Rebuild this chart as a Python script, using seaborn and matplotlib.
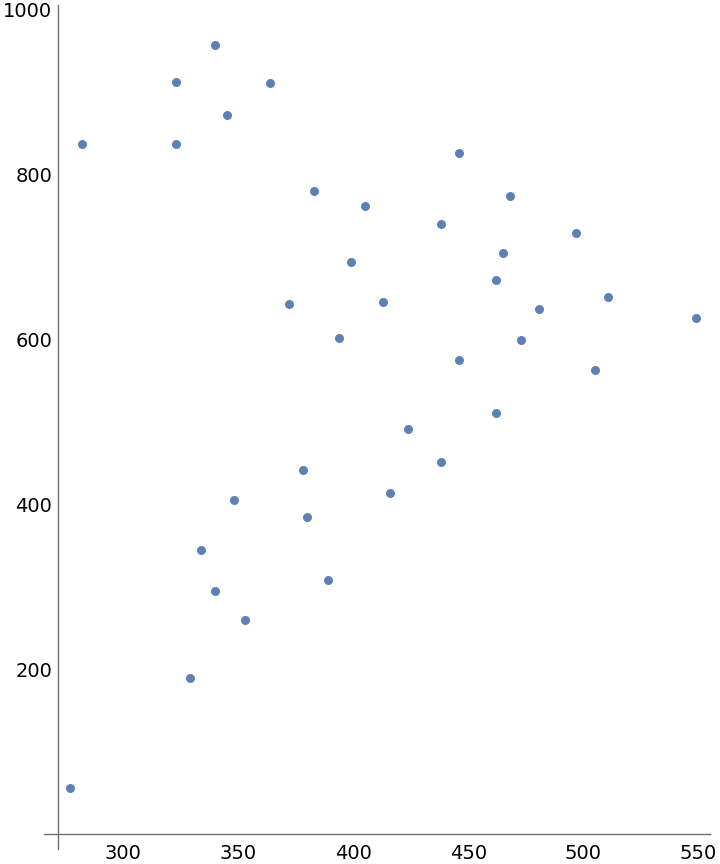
import matplotlib
matplotlib.use("Agg")
import matplotlib.pyplot as plt
from matplotlib.ticker import MultipleLocator, FixedLocator
import seaborn as sns
import pandas as pd

x_vals = [277, 282, 323, 323, 340, 345, 364, 383, 405, 446, 468, 438, 399,
          497, 465, 462, 511, 372, 413, 549, 394, 481, 473, 446, 505, 462,
          424, 438, 378, 416, 348, 380, 334, 389, 340, 353, 329]
y_vals = [56, 837, 912, 837, 956, 872, 910, 780, 761, 826, 774, 740, 694,
          729, 705, 672, 651, 643, 645, 626, 601, 637, 599, 575, 562, 511,
          491, 451, 441, 414, 405, 384, 344, 308, 295, 260, 189]
x_major = [300, 350, 400, 450, 500, 550]
y_major = [200, 400, 600, 800, 1000]

df = pd.DataFrame({"x": x_vals, "y": y_vals})

sns.set_style("white")
plt.rcParams["font.family"] = ["DejaVu Sans"]

fig = plt.figure(figsize=(7.2, 8.64), dpi=100)
ax = fig.add_axes([44/720, 1 - 849/864, 666/720, 844/864])

sns.scatterplot(data=df, x="x", y="y", ax=ax, color="#5E81B5", s=42,
                linewidth=0, legend=False)

ax.set_xlim(265.5, 555.2)
ax.set_ylim(-18, 1005)

axis_col = "#6e6e6e"
ax.spines["top"].set_visible(False)
ax.spines["right"].set_visible(False)
ax.spines["left"].set_position(("data", 271.5))
ax.spines["bottom"].set_position(("data", 0))
for s in ("left", "bottom"):
    ax.spines[s].set_color(axis_col)
    ax.spines[s].set_linewidth(1.0)

ax.xaxis.set_major_locator(FixedLocator(x_major))
ax.xaxis.set_minor_locator(MultipleLocator(10))
ax.yaxis.set_major_locator(FixedLocator(y_major))
ax.yaxis.set_minor_locator(MultipleLocator(50))

ax.tick_params(axis="both", which="major", direction="in", length=4.5,
               width=0.8, color=axis_col, labelsize=14, labelcolor="black")
ax.tick_params(axis="both", which="minor", direction="in", length=2.5,
               width=0.6, color=axis_col)
ax.tick_params(axis="x", which="major", pad=7)
ax.tick_params(axis="y", which="major", pad=4)

ax.set_xlabel("")
ax.set_ylabel("")

fig.savefig("out.png", dpi=100)
